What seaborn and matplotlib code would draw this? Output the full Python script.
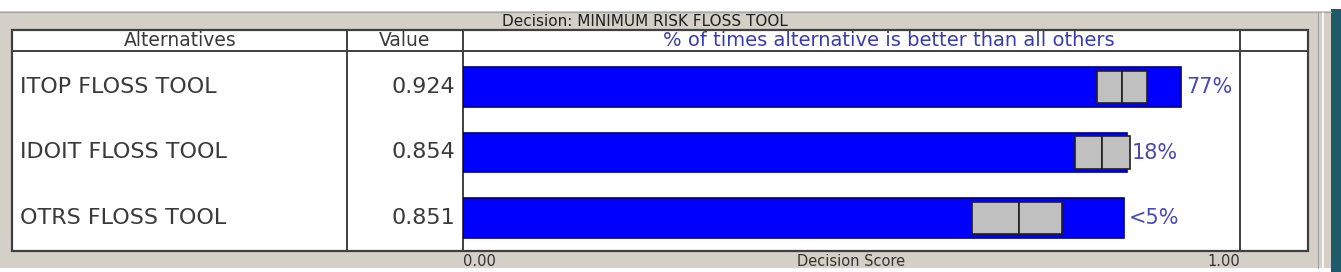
import matplotlib
matplotlib.use("Agg")
import matplotlib.pyplot as plt
import seaborn as sns
import pandas as pd
from matplotlib.patches import Rectangle

# ---- data ----
alternatives = ["ITOP FLOSS TOOL", "IDOIT FLOSS TOOL", "OTRS FLOSS TOOL"]
values = [0.924, 0.854, 0.851]
box_low = [0.816, 0.788, 0.655]
box_mid = [0.848, 0.822, 0.716]
box_high = [0.880, 0.858, 0.771]
pct_labels = ["77%", "18%", "<5%"]
title = "Decision: MINIMUM RISK FLOSS TOOL"
col_headers = ["Alternatives", "Value", "% of times alternative is better than all others"]
axis_ticks = [0.0, 1.0]
axis_ticklabels = ["0.00", "1.00"]
axis_label = "Decision Score"

sns.set_theme(style="white")
plt.rcParams["font.family"] = ["DejaVu Sans"]

W, H = 1341, 272
fig = plt.figure(figsize=(W / 100, H / 100), dpi=100, facecolor="white")

# ---- background / table frame in pixel coordinates ----
bg = fig.add_axes([0, 0, 1, 1])
bg.set_xlim(0, W)
bg.set_ylim(H, 0)
bg.axis("off")

panel = "#d4d0c8"
line_c = "#404040"
bg.add_patch(Rectangle((0, 11), 1331, 257, facecolor=panel, edgecolor="none"))
bg.plot([0, 1331], [11.5, 11.5], color="#a8a8a8", lw=1)
bg.add_patch(Rectangle((1331, 9), 10, 263, facecolor="#1e5a6a", edgecolor="none"))
bg.plot([1323, 1323], [13, 268], color="white", lw=1.2)
bg.plot([1318, 1318], [13, 268], color="#a0a0a0", lw=0.8)
bg.add_patch(Rectangle((12, 30), 1296, 221, facecolor="white", edgecolor=line_c, lw=1.6))
bg.plot([12, 1308], [51, 51], color=line_c, lw=1.4)
for xv in [347, 463, 1240]:
    bg.plot([xv, xv], [30, 251], color=line_c, lw=1.4)

txt_c = "#3a3a3a"
bg.text(645, 22, title, ha="center", va="center", fontsize=11, color="#202020")
bg.text(180, 41, col_headers[0], ha="center", va="center", fontsize=13.5, color=txt_c)
bg.text(405, 41, col_headers[1], ha="center", va="center", fontsize=13.5, color=txt_c)
bg.text(889, 41, col_headers[2], ha="center", va="center", fontsize=14, color="#3a3ab8")

row_y = [87, 152.5, 218]
for yv, name, val in zip(row_y, alternatives, values):
    bg.text(20, yv, name, ha="left", va="center", fontsize=16, color=txt_c)
    bg.text(455, yv, f"{val:.3f}", ha="right", va="center", fontsize=16, color=txt_c)

# ---- bar axes ----
left, right, top, bottom = 463, 1240, 51, 251
ax = fig.add_axes([left / W, 1 - bottom / H, (right - left) / W, (bottom - top) / H])
ax.patch.set_alpha(0)

df = pd.DataFrame({"alt": alternatives, "value": values})
sns.barplot(data=df, x="value", y="alt", orient="h", color="#0000ff",
            edgecolor="#000080", linewidth=1.2, width=0.61, saturation=1, ax=ax)

pos = list(range(len(alternatives)))
ax.barh(pos, [m - l for m, l in zip(box_mid, box_low)], left=box_low, height=0.5,
        color="#c0c0c0", edgecolor="#202020", linewidth=1.2)
ax.barh(pos, [h - m for h, m in zip(box_high, box_mid)], left=box_mid, height=0.5,
        color="#c0c0c0", edgecolor="#202020", linewidth=1.2)

for p, v, lab in zip(pos, values, pct_labels):
    ax.annotate(lab, (v, p), xytext=(5, 0), textcoords="offset pixels",
                ha="left", va="center", fontsize=15, color="#4848b8")

ax.set_xlim(0, 1)
ax.set_ylim(2.504, -0.55)
for s in ax.spines.values():
    s.set_visible(False)
ax.set_yticks([])
ax.set_ylabel("")
ax.set_xticks(axis_ticks)
ax.set_xticklabels(axis_ticklabels, fontsize=10.5, color="#333333")
ax.tick_params(axis="x", length=0, pad=2)
labs = ax.get_xticklabels()
labs[0].set_horizontalalignment("left")
labs[1].set_horizontalalignment("right")
ax.set_xlabel(axis_label, fontsize=10.5, color="#333333")
ax.xaxis.set_label_coords(0.5, -0.015, transform=ax.transAxes)
ax.xaxis.label.set_verticalalignment("top")

fig.savefig("out.png", dpi=100, facecolor="white")
